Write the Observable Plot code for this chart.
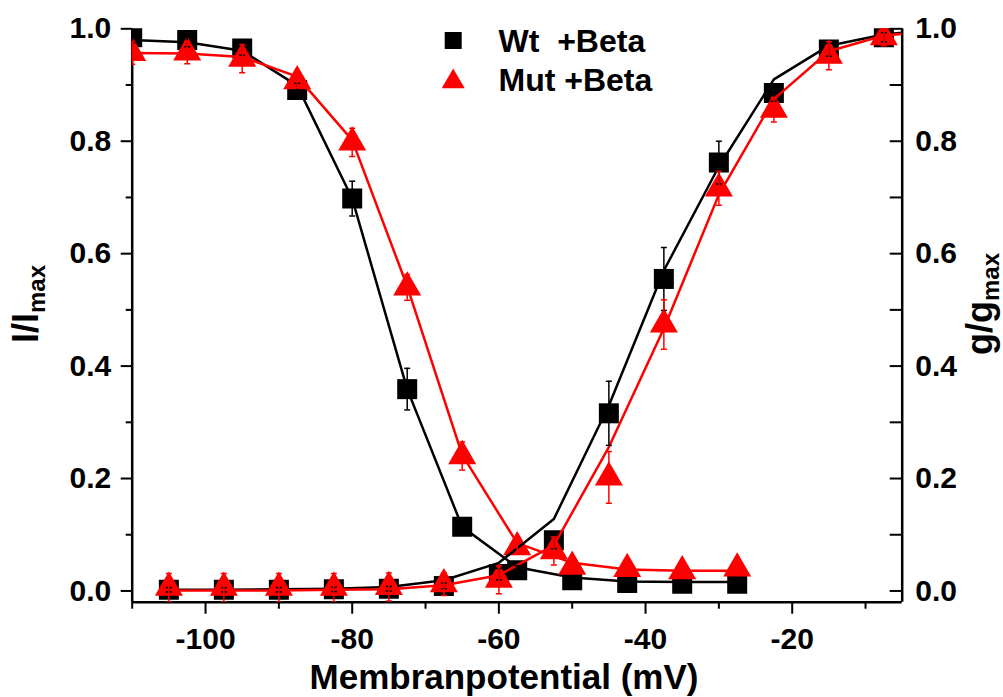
<!DOCTYPE html>
<html>
<head>
<meta charset="utf-8">
<script src="https://cdn.jsdelivr.net/npm/d3@7"></script>
<script src="https://cdn.jsdelivr.net/npm/@observablehq/plot@0.6"></script>
<style>
  html, body { margin: 0; padding: 0; background: #fff; }
  #chart svg { display: block; }
</style>
</head>
<body>
<div id="chart"></div>
<script>
// Membrane potentials (mV)
const inactV = [-110, -102.5, -95, -87.5, -80, -72.5, -65, -57.5, -50, -42.5, -35, -27.5];
const actV = [-105, -97.5, -90, -82.5, -75, -67.5, -60, -52.5, -45, -37.5, -30, -22.5, -15, -7.5];
const actFitV = [-105, -97.5, -90, -82.5, -75, -67.5, -60, -52.5, -45, -37.5, -30, -22.5, -15, -7.5, -5];

// Steady-state inactivation, I/Imax
const wtInact = [0.985, 0.98, 0.965, 0.891, 0.698, 0.359, 0.114, 0.037, 0.019, 0.014, 0.013, 0.013];
const wtInactErr = [0.01, 0.012, 0.012, 0.012, 0.031, 0.037, 0.012, 0.008, 0.006, 0.006, 0.005, 0.005];
const wtInactFit = [0.98, 0.976, 0.961, 0.899, 0.698, 0.359, 0.114, 0.042, 0.024, 0.017, 0.016, 0.016];
const mutInact = [0.957, 0.958, 0.947, 0.907, 0.798, 0.540, 0.240, 0.078, 0.043, 0.039, 0.035, 0.040];
const mutInactErr = [0.02, 0.02, 0.025, 0.012, 0.025, 0.023, 0.025, 0.012, 0.01, 0.01, 0.01, 0.01];
const mutInactFit = [0.957, 0.956, 0.950, 0.915, 0.802, 0.542, 0.242, 0.085, 0.05, 0.038, 0.036, 0.036];

// Activation, g/gmax
const wtAct = [0.002, 0.002, 0.002, 0.003, 0.004, 0.009, 0.03, 0.09, 0.316, 0.555, 0.762, 0.886, 0.963, 0.985];
const wtActErr = [0.004, 0.004, 0.004, 0.004, 0.004, 0.005, 0.01, 0.015, 0.057, 0.056, 0.038, 0.015, 0.012, 0.008];
const wtActFit = [0.002, 0.002, 0.003, 0.004, 0.007, 0.019, 0.05, 0.128, 0.33, 0.57, 0.755, 0.91, 0.97, 0.99, 0.993];
const mutAct = [0.006, 0.006, 0.006, 0.006, 0.007, 0.012, 0.02, 0.071, 0.202, 0.474, 0.716, 0.856, 0.952, 0.985];
const mutActErr = [0.025, 0.025, 0.025, 0.025, 0.025, 0.02, 0.025, 0.025, 0.046, 0.044, 0.03, 0.022, 0.025, 0.015];
const mutActFit = [0.001, 0.001, 0.001, 0.002, 0.003, 0.01, 0.028, 0.081, 0.256, 0.467, 0.705, 0.875, 0.96, 0.988, 0.991];

// Series names and axis setup
const seriesNames = ["Wt\u00a0 +Beta", "Mut +Beta"];
const xDomain = [-110, -5];
const yDomain = [-0.02, 1];
const xMajor = [-100, -80, -60, -40, -20];
const xMinor = [-110, -90, -70, -50, -30, -10];
const yMajor = [0, 0.2, 0.4, 0.6, 0.8, 1.0];
const yMinor = [0.1, 0.3, 0.5, 0.7, 0.9];
const xTitle = "Membranpotential (mV)";

const rows = (xs, ys, es) => xs.map((v, i) => ({v, y: ys[i], e: es ? es[i] : 0}));
const wtInactRows = rows(inactV, wtInact, wtInactErr);
const mutInactRows = rows(inactV, mutInact, mutInactErr);
const wtActRows = rows(actV, wtAct, wtActErr);
const mutActRows = rows(actV, mutAct, mutActErr);
const wtInactFitRows = rows(inactV, wtInactFit);
const mutInactFitRows = rows(inactV, mutInactFit);
const wtActFitRows = rows(actFitV, wtActFit);
const mutActFitRows = rows(actFitV, mutActFit);

const BLACK = "#000000";
const RED = "#ff0000";
const W = 1003, H = 697;
const mL = 131.7, mR = 101.3, mT = 28.3, mB = 95.3;
const plotW = W - mL - mR;

const sqR = 20 / Math.sqrt(Math.PI);
const triR = 10.4;

// short horizontal stroke used as an error-bar cap
const cap = { draw(ctx, size) { const w = Math.sqrt(size); ctx.moveTo(-w / 2, 0); ctx.lineTo(w / 2, 0); } };
const capR = 6 / Math.sqrt(Math.PI);

function fitLine(data, color) {
  return Plot.line(data, {x: "v", y: "y", stroke: color, strokeWidth: 2.5, clip: true});
}
function symbols(data, color, symbol, r) {
  return Plot.dot(data, {x: "v", y: "y", symbol, r, fill: color, stroke: "none", clip: true});
}
function errBars(data, color) {
  return [
    Plot.ruleX(data, {x: "v", y1: d => d.y - d.e, y2: d => d.y + d.e, stroke: color, strokeWidth: 1.5, clip: true}),
    Plot.dot(data, {x: "v", y: d => d.y + d.e, symbol: cap, r: capR, fill: "none", stroke: color, strokeWidth: 1.5, clip: true}),
    Plot.dot(data, {x: "v", y: d => d.y - d.e, symbol: cap, r: capR, fill: "none", stroke: color, strokeWidth: 1.5, clip: true})
  ];
}

const fmtY = d3.format(".1f");

const chart = Plot.plot({
  width: W,
  height: H,
  marginLeft: mL,
  marginRight: mR,
  marginTop: mT,
  marginBottom: mB,
  x: {domain: xDomain, label: null},
  y: {domain: yDomain, label: null},
  style: {fontFamily: "'Liberation Sans', Arial, sans-serif", fontWeight: "bold", background: "#fff", color: "#000"},
  marks: [
    // axes
    Plot.axisX(xMajor, {tickSize: 12, tickPadding: 13, tickFormat: d => String(d), fontSize: 30, strokeWidth: 2, label: null}),
    Plot.axisX(xMinor, {tickSize: 7, tickFormat: () => "", strokeWidth: 2, label: null}),
    Plot.axisY(yMajor, {anchor: "left", tickSize: 11, tickPadding: 10, tickFormat: fmtY, fontSize: 30, strokeWidth: 2, label: null}),
    Plot.axisY(yMinor, {anchor: "left", tickSize: 6, tickFormat: () => "", strokeWidth: 2, label: null}),
    Plot.axisY(yMajor, {anchor: "right", tickSize: 0, tickPadding: 13, tickFormat: fmtY, fontSize: 30, label: null}),
    Plot.tickY(yMajor.concat(yMinor), {y: d => d, insetLeft: plotW - 12, stroke: BLACK, strokeWidth: 2}),
    Plot.ruleX(xDomain, {x: d => d, stroke: BLACK, strokeWidth: 2.5}),
    Plot.ruleY([yDomain[0]], {y: d => d, stroke: BLACK, strokeWidth: 2.5}),

    // data: lines and symbols
    fitLine(wtInactFitRows, BLACK),
    symbols(wtInactRows, BLACK, "square", sqR),
    fitLine(mutInactFitRows, RED),
    symbols(mutInactRows, RED, "triangle", triR),
    fitLine(wtActFitRows, BLACK),
    symbols(wtActRows, BLACK, "square", sqR),
    fitLine(mutActFitRows, RED),
    symbols(mutActRows, RED, "triangle", triR),

    // error bars
    errBars(wtInactRows, BLACK),
    errBars(wtActRows, BLACK),
    errBars(mutInactRows, RED),
    errBars(mutActRows, RED),

    // legend
    Plot.dot([seriesNames[0]], {frameAnchor: "top-left", dx: 321, dy: 11.7, symbol: "square", r: 17 / Math.sqrt(Math.PI), fill: BLACK}),
    Plot.dot([seriesNames[1]], {frameAnchor: "top-left", dx: 321, dy: 52.9, symbol: "triangle", r: 8.54, fill: RED}),
    Plot.text([seriesNames[0]], {frameAnchor: "top-left", dx: 366.3, dy: 13.2, text: d => d, textAnchor: "start", lineAnchor: "middle", fontSize: 32, fill: BLACK}),
    Plot.text([seriesNames[1]], {frameAnchor: "top-left", dx: 366.3, dy: 51.5, text: d => d, textAnchor: "start", lineAnchor: "middle", fontSize: 32, fill: BLACK})
  ]
});

document.getElementById("chart").appendChild(chart);

// axis titles (with subscripts)
const svg = d3.select(chart);
svg.append("text")
  .attr("x", 504)
  .attr("y", 689)
  .attr("text-anchor", "middle")
  .style("font-size", "35px")
  .style("font-weight", "bold")
  .text(xTitle);

function yTitle(x, main, sub) {
  const t = svg.append("text")
    .attr("transform", `translate(${x},304) rotate(-90)`)
    .attr("text-anchor", "middle")
    .style("font-size", "36px")
    .style("font-weight", "bold");
  t.append("tspan").text(main);
  t.append("tspan").attr("dy", 7).style("font-size", "24px").text(sub);
}
yTitle(38, "I/I", "max");
yTitle(992, "g/g", "max");
</script>
</body>
</html>
